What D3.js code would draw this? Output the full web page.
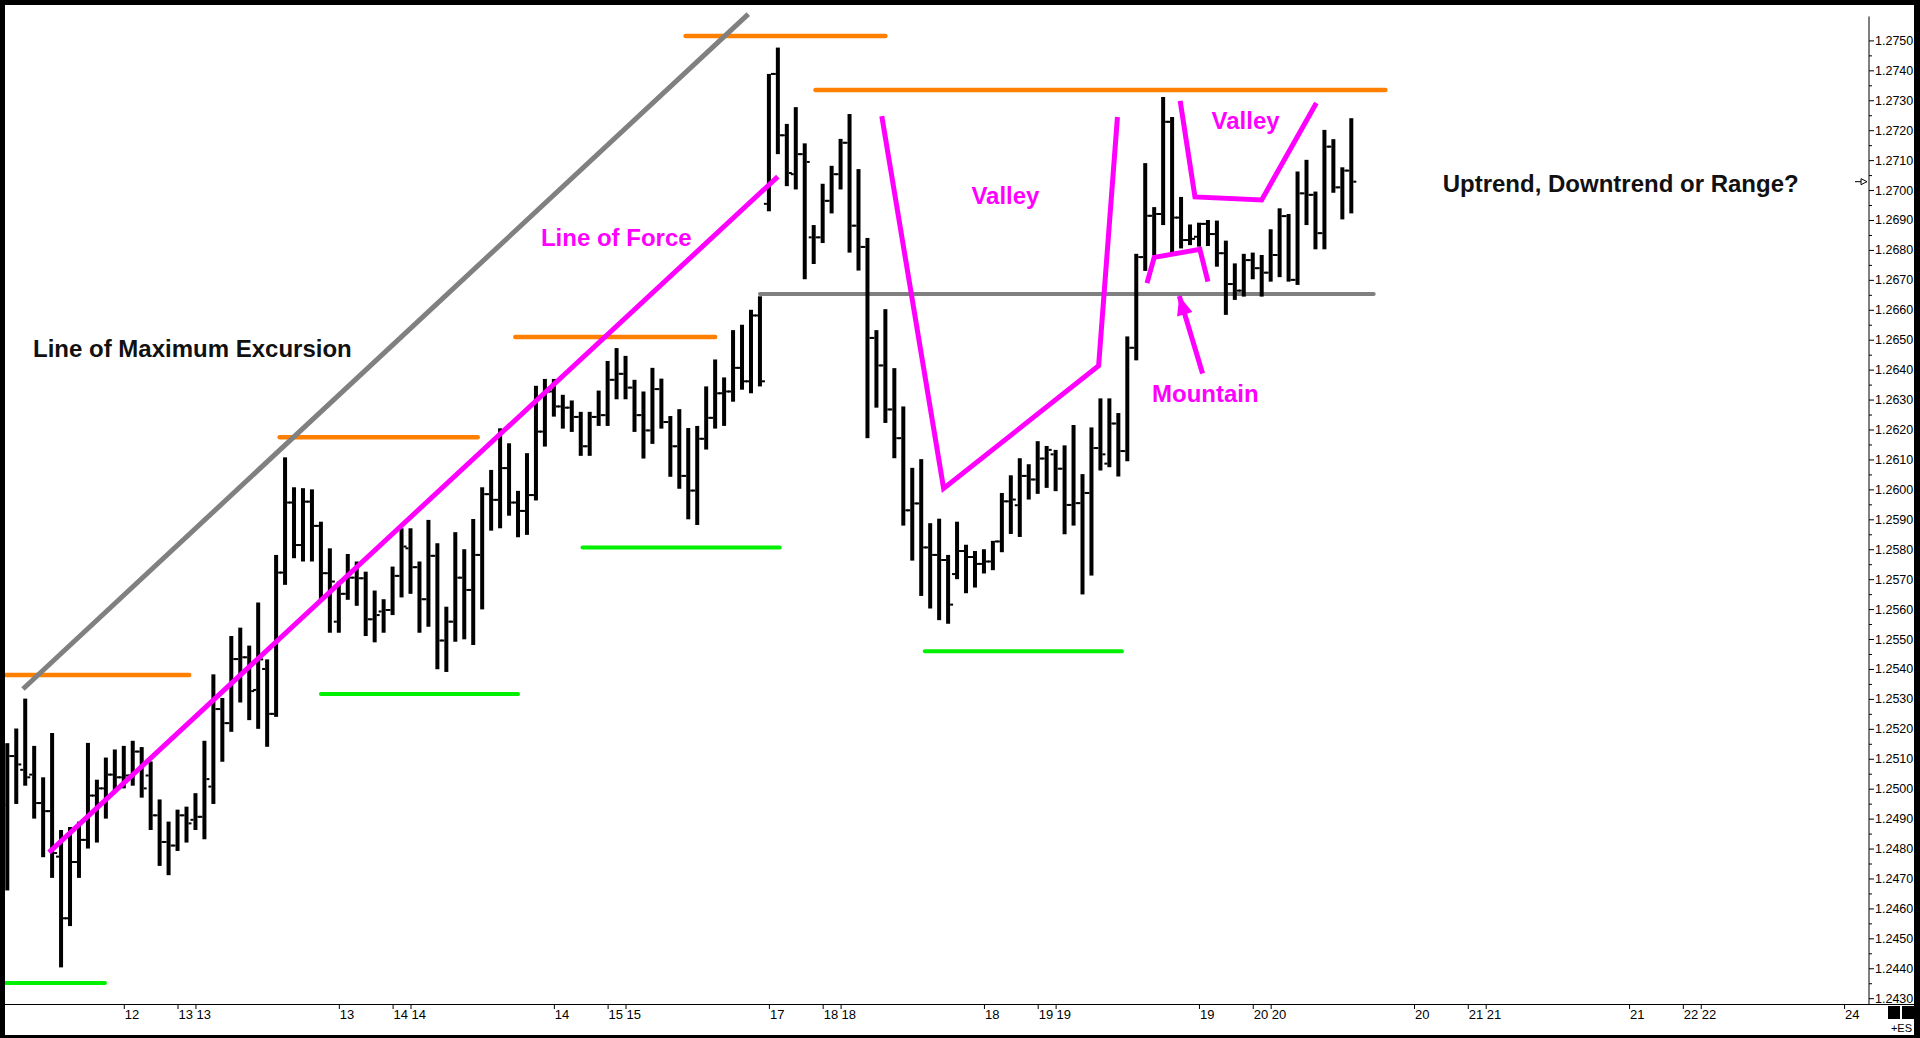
<!DOCTYPE html>
<html>
<head>
<meta charset="utf-8">
<script src="https://cdnjs.cloudflare.com/ajax/libs/d3/7.8.5/d3.min.js"></script>
<style>
    body { margin: 0; background: #fff; overflow: hidden; }
    svg { display: block; }
</style>
</head>
<body>
<div id="chart"></div>
<script>
// hourly OHLC bars, one value per bar (index 0..150)
const barOpen = [
    1.24946, 1.25109, 1.25063, 1.25047, 1.24952, 1.24925, 1.24773, 1.24567, 1.24755, 1.24829,
    1.24977, 1.25001, 1.25047, 1.25038, 1.25044, 1.25124, 1.25044, 1.24911, 1.24822, 1.24810,
    1.24911, 1.24896, 1.24906, 1.25007, 1.25266, 1.25219, 1.25433, 1.25439, 1.25330, 1.25400,
    1.25250, 1.25722, 1.25956, 1.25814, 1.25959, 1.25878, 1.25720, 1.25558, 1.25651, 1.25705,
    1.25703, 1.25566, 1.25592, 1.25597, 1.25711, 1.25803, 1.25740, 1.25633, 1.25778, 1.25495,
    1.25558, 1.25705, 1.25664, 1.25781, 1.25984, 1.25965, 1.26071, 1.25956, 1.25928, 1.25981,
    1.26193, 1.26327, 1.26277, 1.26273, 1.26242, 1.26144, 1.26242, 1.26248, 1.26366, 1.26386,
    1.26340, 1.26248, 1.26197, 1.26335, 1.26225, 1.26144, 1.26045, 1.25996, 1.26169, 1.26239,
    1.26321, 1.26327, 1.26406, 1.26361, 1.26581, 1.26954, 1.27388, 1.27183, 1.27053, 1.27120,
    1.26842, 1.26842, 1.26964, 1.27053, 1.27158, 1.26881, 1.26810, 1.26506, 1.26414, 1.26267,
    1.26171, 1.25930, 1.25953, 1.25806, 1.25781, 1.25764, 1.25717, 1.25794, 1.25774, 1.25751,
    1.25759, 1.25826, 1.25960, 1.25947, 1.26045, 1.26033, 1.26103, 1.26117, 1.26069, 1.25948,
    1.25954, 1.25988, 1.26138, 1.26086, 1.26220, 1.26128, 1.26473, 1.26776, 1.26914, 1.26920,
    1.27228, 1.26908, 1.26833, 1.26844, 1.26887, 1.26853, 1.26789, 1.26686, 1.26664, 1.26766,
    1.26739, 1.26724, 1.26783, 1.26913, 1.26700, 1.26989, 1.26984, 1.26856, 1.27145, 1.27009,
    1.27065
];
const barHigh = [
    1.25152, 1.25201, 1.25301, 1.25143, 1.25038, 1.25186, 1.24862, 1.24872, 1.24890, 1.25153,
    1.25030, 1.25104, 1.25131, 1.25143, 1.25160, 1.25139, 1.25091, 1.24964, 1.24890, 1.24930,
    1.24940, 1.24985, 1.25160, 1.25382, 1.25303, 1.25510, 1.25538, 1.25478, 1.25622, 1.25432,
    1.25781, 1.26107, 1.26007, 1.26004, 1.26000, 1.25892, 1.25803, 1.25692, 1.25784, 1.25759,
    1.25725, 1.25662, 1.25633, 1.25742, 1.25870, 1.25870, 1.25759, 1.25898, 1.25820, 1.25608,
    1.25857, 1.25800, 1.25901, 1.26007, 1.26065, 1.26204, 1.26154, 1.25995, 1.26121, 1.26346,
    1.26369, 1.26369, 1.26316, 1.26297, 1.26259, 1.26259, 1.26330, 1.26429, 1.26472, 1.26446,
    1.26366, 1.26327, 1.26406, 1.26370, 1.26245, 1.26268, 1.26205, 1.26212, 1.26344, 1.26434,
    1.26374, 1.26532, 1.26550, 1.26600, 1.26645, 1.27388, 1.27476, 1.27221, 1.27277, 1.27156,
    1.26883, 1.27021, 1.27081, 1.27171, 1.27254, 1.27070, 1.26840, 1.26532, 1.26602, 1.26405,
    1.26277, 1.26072, 1.26101, 1.25887, 1.25902, 1.25781, 1.25892, 1.25815, 1.25794, 1.25800,
    1.25828, 1.25988, 1.26047, 1.26104, 1.26084, 1.26161, 1.26145, 1.26132, 1.26147, 1.26215,
    1.26051, 1.26207, 1.26304, 1.26304, 1.26255, 1.26511, 1.26787, 1.27090, 1.26943, 1.27311,
    1.27244, 1.26977, 1.26885, 1.26891, 1.26900, 1.26898, 1.26831, 1.26755, 1.26787, 1.26791,
    1.26783, 1.26869, 1.26939, 1.26920, 1.27062, 1.27101, 1.26995, 1.27201, 1.27170, 1.27076,
    1.27240
];
const barLow = [
    1.24660, 1.24949, 1.25010, 1.24900, 1.24771, 1.24702, 1.24403, 1.24541, 1.24702, 1.24800,
    1.24820, 1.24900, 1.24989, 1.25001, 1.25010, 1.24970, 1.24862, 1.24742, 1.24711, 1.24792,
    1.24820, 1.24862, 1.24831, 1.24949, 1.25090, 1.25190, 1.25288, 1.25229, 1.25200, 1.25140,
    1.25240, 1.25681, 1.25770, 1.25759, 1.25759, 1.25631, 1.25521, 1.25521, 1.25631, 1.25611,
    1.25510, 1.25489, 1.25521, 1.25580, 1.25639, 1.25651, 1.25521, 1.25541, 1.25399, 1.25390,
    1.25491, 1.25499, 1.25480, 1.25599, 1.25862, 1.25870, 1.25912, 1.25840, 1.25848, 1.25963,
    1.26143, 1.26243, 1.26203, 1.26192, 1.26112, 1.26112, 1.26212, 1.26212, 1.26301, 1.26301,
    1.26192, 1.26103, 1.26152, 1.26203, 1.26042, 1.26002, 1.25900, 1.25881, 1.26133, 1.26203,
    1.26212, 1.26293, 1.26333, 1.26321, 1.26344, 1.26929, 1.27120, 1.27013, 1.27002, 1.26702,
    1.26753, 1.26823, 1.26922, 1.27002, 1.26791, 1.26731, 1.26171, 1.26273, 1.26222, 1.26104,
    1.25879, 1.25762, 1.25644, 1.25602, 1.25563, 1.25551, 1.25700, 1.25653, 1.25672, 1.25719,
    1.25730, 1.25790, 1.25851, 1.25841, 1.25966, 1.25985, 1.26005, 1.25994, 1.25850, 1.25879,
    1.25649, 1.25712, 1.26063, 1.26074, 1.26043, 1.26094, 1.26431, 1.26730, 1.26782, 1.26883,
    1.26793, 1.26805, 1.26816, 1.26811, 1.26813, 1.26744, 1.26583, 1.26633, 1.26644, 1.26702,
    1.26644, 1.26694, 1.26709, 1.26694, 1.26683, 1.26883, 1.26802, 1.26802, 1.26991, 1.26902,
    1.26922
];
const barClose = [
    1.25109, 1.25081, 1.25038, 1.24952, 1.24925, 1.24785, 1.24567, 1.24755, 1.24829, 1.24977,
    1.25001, 1.25047, 1.25038, 1.25044, 1.25124, 1.25001, 1.24911, 1.24822, 1.24810, 1.24911,
    1.24884, 1.24906, 1.25032, 1.25266, 1.25219, 1.25433, 1.25439, 1.25326, 1.25432, 1.25250,
    1.25722, 1.25956, 1.25814, 1.25959, 1.25878, 1.25720, 1.25692, 1.25651, 1.25705, 1.25703,
    1.25566, 1.25580, 1.25597, 1.25711, 1.25809, 1.25740, 1.25633, 1.25778, 1.25495, 1.25558,
    1.25705, 1.25664, 1.25781, 1.25984, 1.25965, 1.26071, 1.25956, 1.25928, 1.25981, 1.26193,
    1.26327, 1.26277, 1.26273, 1.26242, 1.26144, 1.26242, 1.26248, 1.26366, 1.26386, 1.26340,
    1.26248, 1.26197, 1.26335, 1.26225, 1.26144, 1.26045, 1.25996, 1.26169, 1.26239, 1.26321,
    1.26327, 1.26406, 1.26361, 1.26581, 1.26361, 1.27388, 1.27183, 1.27057, 1.27120, 1.27094,
    1.26842, 1.26964, 1.27053, 1.27158, 1.26881, 1.26810, 1.26506, 1.26414, 1.26267, 1.26171,
    1.25930, 1.25953, 1.25806, 1.25781, 1.25764, 1.25615, 1.25794, 1.25774, 1.25751, 1.25759,
    1.25826, 1.25960, 1.25966, 1.26045, 1.26033, 1.26103, 1.26132, 1.26069, 1.25948, 1.25954,
    1.25988, 1.26138, 1.26117, 1.26220, 1.26128, 1.26473, 1.26776, 1.26914, 1.26920, 1.27228,
    1.26908, 1.26833, 1.26837, 1.26887, 1.26853, 1.26789, 1.26686, 1.26664, 1.26766, 1.26739,
    1.26724, 1.26783, 1.26913, 1.26700, 1.26989, 1.26984, 1.26856, 1.27145, 1.27009, 1.27065,
    1.27028
];

// time axis: bar index of each tick and its label
const dateTickIdx = [13, 19, 21, 37, 43, 45, 61, 67, 69, 85, 91, 93, 109, 115, 117,
    133, 139, 141, 157, 163, 165, 181, 187, 189, 205];
const dateTickLabels = ['12', '13', '13', '13', '14', '14', '14', '15', '15', '17', '18', '18', '18', '19', '19',
    '19', '20', '20', '20', '21', '21', '21', '22', '22', '24'];

// price axis
const priceTicks = [
    1.2430, 1.2440, 1.2450, 1.2460, 1.2470, 1.2480, 1.2490, 1.2500, 1.2510, 1.2520, 1.2530,
    1.2540, 1.2550, 1.2560, 1.2570, 1.2580, 1.2590, 1.2600, 1.2610, 1.2620, 1.2630, 1.2640,
    1.2650, 1.2660, 1.2670, 1.2680, 1.2690, 1.2700, 1.2710, 1.2720, 1.2730, 1.2740, 1.2750
];
const priceMinorTicks = priceTicks.slice(0, -1).map(p => p + 0.0005);

// drawn levels: [start index, end index, price]
const resistanceLevels = [
    [-0.3, 20.3, 1.25380],
    [30.4, 52.5, 1.26174],
    [56.7, 79.0, 1.26509],
    [75.7, 98.0, 1.27515],
    [90.2, 153.8, 1.27334]
];
const supportLevels = [
    [-0.3, 10.9, 1.24351],
    [35.0, 57.0, 1.25316],
    [64.2, 86.2, 1.25806],
    [102.4, 124.4, 1.25459]
];
const rangeLevel = [84.0, 152.5, 1.26653];

// drawn lines: [index, price] points
const maxExcursionLine = [[1.75, 1.25333], [82.7, 1.27588]];
const lineOfForce = [[4.65, 1.24787], [86.0, 1.27045]];
const bigValley = [[97.6, 1.27247], [104.5, 1.26003], [121.8, 1.26413], [123.9, 1.27244]];
const smallValley = [[130.9, 1.27298], [132.55, 1.26977], [140.0, 1.26967], [146.1, 1.27291]];
const mountain = [[127.2, 1.26689], [128.0, 1.26775], [133.1, 1.26802], [134.0, 1.26694]];
const mountainArrow = [[133.4, 1.26387], [130.8, 1.26646]];

// labels: [text, index, price (baseline), colour]
const annotations = [
    ['Line of Maximum Excursion', 2.87, 1.26441, '#111'],
    ['Line of Force', 59.56, 1.26813, '#ff00ff'],
    ['Valley', 107.6, 1.26953, '#ff00ff'],
    ['Valley', 134.4, 1.27204, '#ff00ff'],
    ['Mountain', 127.76, 1.26292, '#ff00ff'],
    ['Uptrend, Downtrend or Range?', 160.2, 1.26993, '#111']
];

function drawChart() {
    const width = 1920, height = 1038;
    const axisX = 1869, axisY = 1004;
    const orange = '#ff8000', green = '#00f000', grey = '#808080', magenta = '#ff00ff';

    const svg = d3.select('#chart')
        .append('svg')
        .attr('width', width)
        .attr('height', height);

    svg.append('rect')
        .attr('width', width)
        .attr('height', height)
        .attr('fill', '#fff');

    // Scales: one bar every ~9 px, 24 bars per day
    const x = d3.scaleLinear().domain([0, 205]).range([7.3, 1844.1]);
    const y = d3.scaleLinear().domain([1.2430, 1.2750]).range([998.2, 40.4]);

    // Assi
    const yAxis = svg.append('g')
        .attr('transform', `translate(${axisX},0)`)
        .call(d3.axisRight(y).tickValues(priceTicks).tickSize(5).tickPadding(1)
            .tickFormat(d3.format('.4f')));
    yAxis.select('.domain').remove();
    yAxis.selectAll('text')
        .attr('font-family', 'Liberation Sans, Arial, sans-serif')
        .attr('font-size', 12.5)
        .attr('fill', '#000');

    const yMinor = svg.append('g')
        .attr('transform', `translate(${axisX},0)`)
        .call(d3.axisRight(y).tickValues(priceMinorTicks).tickSize(3).tickFormat(''));
    yMinor.select('.domain').remove();

    svg.append('line')
        .attr('x1', axisX).attr('x2', axisX)
        .attr('y1', y(1.2758)).attr('y2', axisY)
        .attr('stroke', '#000');

    const xAxis = svg.append('g')
        .attr('transform', `translate(0,${axisY})`)
        .call(d3.axisBottom(x).tickValues(dateTickIdx).tickSize(5).tickPadding(1)
            .tickFormat((d, i) => dateTickLabels[i]));
    xAxis.select('.domain').remove();
    xAxis.selectAll('text')
        .attr('text-anchor', 'start')
        .attr('x', 0.5)
        .attr('font-family', 'Liberation Sans Narrow, Arial Narrow, Liberation Sans, Arial, sans-serif')
        .attr('font-size', 13)
        .attr('fill', '#000');

    svg.append('line')
        .attr('x1', 0).attr('x2', width)
        .attr('y1', axisY + 0.5).attr('y2', axisY + 0.5)
        .attr('stroke', '#000');

    // Livelli orizzontali
    const drawLevels = (levels, color, width) => {
        svg.append('g')
            .selectAll('line')
            .data(levels)
            .join('line')
            .attr('x1', d => x(d[0]))
            .attr('x2', d => x(d[1]))
            .attr('y1', d => y(d[2]))
            .attr('y2', d => y(d[2]))
            .attr('stroke', color)
            .attr('stroke-width', width)
            .attr('stroke-linecap', 'round');
    };
    drawLevels(resistanceLevels, orange, 4.5);
    drawLevels(supportLevels, green, 4);
    drawLevels([rangeLevel], grey, 4);

    const line = d3.line().x(d => x(d[0])).y(d => y(d[1]));

    svg.append('path')
        .attr('d', line(maxExcursionLine))
        .attr('fill', 'none')
        .attr('stroke', grey)
        .attr('stroke-width', 5);

    // OHLC bars
    const idx = d3.range(barHigh.length);
    const bars = svg.append('g').attr('fill', '#000');
    bars.selectAll('.hl')
        .data(idx)
        .join('rect')
        .attr('class', 'hl')
        .attr('x', i => x(i) - 2)
        .attr('width', 4)
        .attr('y', i => y(barHigh[i]))
        .attr('height', i => y(barLow[i]) - y(barHigh[i]));
    bars.selectAll('.op')
        .data(idx)
        .join('rect')
        .attr('class', 'op')
        .attr('x', i => x(i) - 5)
        .attr('width', 3)
        .attr('y', i => y(barOpen[i]) - 1)
        .attr('height', 2);
    bars.selectAll('.cl')
        .data(idx)
        .join('rect')
        .attr('class', 'cl')
        .attr('x', i => x(i) + 2)
        .attr('width', 3)
        .attr('y', i => y(barClose[i]) - 1)
        .attr('height', 2);

    // Linee magenta
    [lineOfForce, bigValley, smallValley, mountain, mountainArrow].forEach(pts => {
        svg.append('path')
            .attr('d', line(pts))
            .attr('fill', 'none')
            .attr('stroke', magenta)
            .attr('stroke-width', 5)
            .attr('stroke-linejoin', 'miter');
    });

    // punta della freccia
    const [tail, tip] = mountainArrow.map(d => [x(d[0]), y(d[1])]);
    const ang = Math.atan2(tip[1] - tail[1], tip[0] - tail[0]);
    const headLen = 19, headW = 8;
    const bx = tip[0] - headLen * Math.cos(ang), by = tip[1] - headLen * Math.sin(ang);
    svg.append('path')
        .attr('d', `M${tip[0]},${tip[1]}` +
            `L${bx + headW * Math.sin(ang)},${by - headW * Math.cos(ang)}` +
            `L${bx - headW * Math.sin(ang)},${by + headW * Math.cos(ang)}Z`)
        .attr('fill', magenta);

    // Testi
    svg.append('g')
        .selectAll('text')
        .data(annotations)
        .join('text')
        .attr('x', d => x(d[1]))
        .attr('y', d => y(d[2]))
        .attr('fill', d => d[3])
        .attr('font-family', 'Liberation Sans, Arial, sans-serif')
        .attr('font-weight', 'bold')
        .attr('font-size', 24)
        .text(d => d[0]);

    // last price marker on the axis
    const lastY = y(barClose[barClose.length - 1]);
    svg.append('line')
        .attr('x1', axisX - 14).attr('x2', axisX - 8)
        .attr('y1', lastY).attr('y2', lastY)
        .attr('stroke', '#000');
    svg.append('path')
        .attr('d', `M${axisX - 8},${lastY - 3}L${axisX - 2},${lastY}L${axisX - 8},${lastY + 3}Z`)
        .attr('fill', '#fff')
        .attr('stroke', '#000');

    // angolo in basso a destra
    svg.append('rect').attr('x', 1888).attr('y', 1006).attr('width', 12).attr('height', 13).attr('fill', '#000');
    svg.append('rect').attr('x', 1902).attr('y', 1006).attr('width', 12).attr('height', 13).attr('fill', '#000');
    svg.append('text')
        .attr('x', 1912).attr('y', 1032)
        .attr('text-anchor', 'end')
        .attr('font-family', 'Liberation Sans Narrow, Arial Narrow, Liberation Sans, Arial, sans-serif')
        .attr('font-size', 11)
        .text('+ES');

    // cornice nera
    const frame = svg.append('g').attr('fill', '#000');
    frame.append('rect').attr('x', 0).attr('y', 0).attr('width', width).attr('height', 5);
    frame.append('rect').attr('x', 0).attr('y', 0).attr('width', 5).attr('height', height);
    frame.append('rect').attr('x', 1914).attr('y', 0).attr('width', 6).attr('height', height);
    frame.append('rect').attr('x', 0).attr('y', 1035).attr('width', width).attr('height', 3);
}

drawChart();
</script>
</body>
</html>
